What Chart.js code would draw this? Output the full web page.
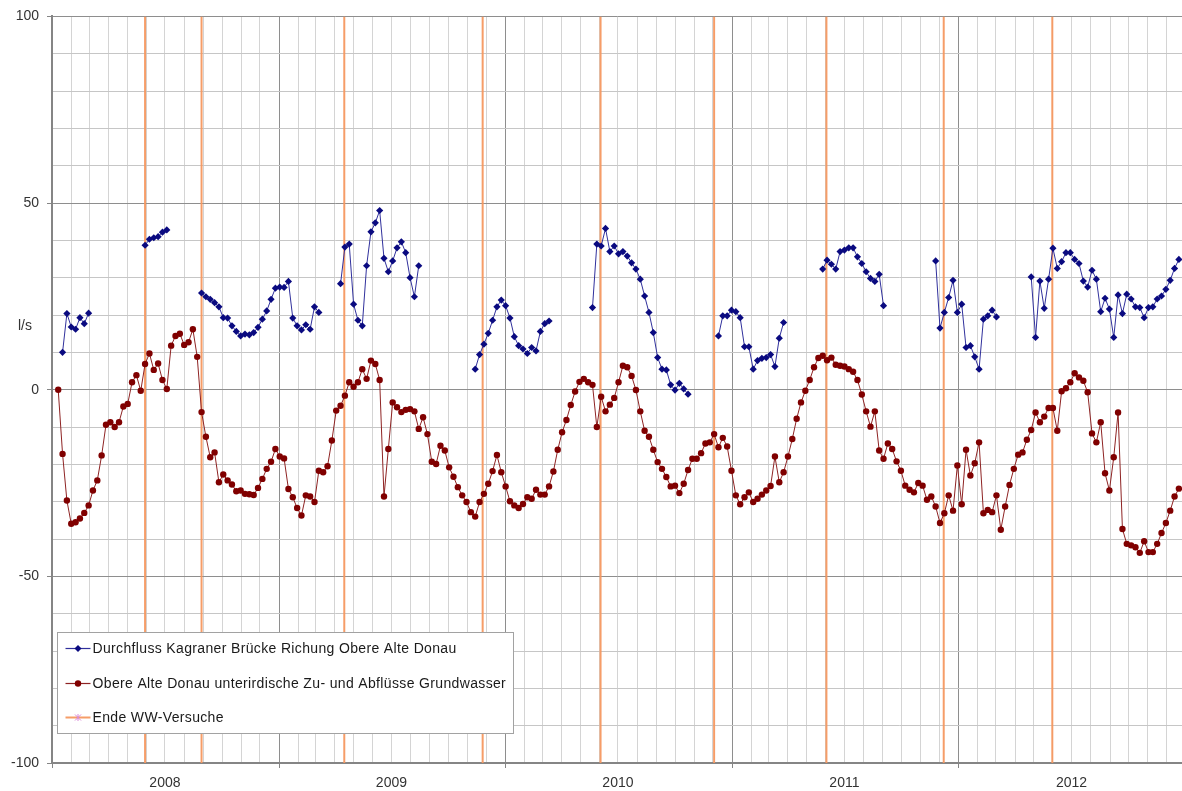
<!DOCTYPE html>
<html>
<head>
<meta charset="utf-8">
<title>Obere Alte Donau – Durchfluss und Grundwasser</title>
<script src="https://cdn.jsdelivr.net/npm/chart.js@4.4.1/dist/chart.umd.min.js"></script>
<style>
  html, body { margin: 0; padding: 0; background: #ffffff; overflow: hidden; }
  #wrap { width: 1182px; height: 791px; position: relative; }
  canvas { display: block; }
</style>
</head>
<body>
<div id="wrap"><canvas id="chart" width="1182" height="791"></canvas></div>
<script>
// Weekly measurement schedule
const firstSample = '2008-01-11';
const sampleStepDays = 7;

// Obere Alte Donau: subsurface in-/outflow (groundwater), l/s
const groundwater = [
  0, -17.2, -29.7, -35.9, -35.5, -34.5, -33, -31, -27, -24.3,
  -17.6, -9.4, -8.7, -10, -8.7, -4.5, -3.8, 2, 3.9, -0.3,
  6.9, 9.7, 5.3, 7, 2.6, 0.2, 11.8, 14.4, 15, 12,
  12.7, 16.2, 8.8, -6, -12.6, -18.1, -16.8, -24.8, -22.7, -24.3,
  -25.4, -27.2, -27, -27.9, -28, -28.2, -26.3, -23.9, -21.2, -19.3,
  -15.9, -17.9, -18.4, -26.6, -28.8, -31.7, -33.7, -28.3, -28.6, -30.1,
  -21.7, -22.1, -20.5, -13.6, -5.6, -4.3, -1.6, 2, 0.8, 2,
  5.5, 2.9, 7.8, 6.9, 2.6, -28.6, -15.9, -3.4, -4.7, -6,
  -5.4, -5.2, -5.8, -10.5, -7.4, -11.9, -19.3, -19.9, -15, -16.3,
  -20.8, -23.3, -26.1, -28.3, -30.1, -32.8, -34, -30.1, -27.9, -25.2,
  -21.8, -17.5, -22.1, -25.9, -29.9, -31, -31.7, -30.6, -28.8, -29.2,
  -26.8, -28.1, -28.1, -25.9, -21.9, -16.1, -11.4, -8.1, -4.1, -0.5,
  2.1, 2.9, 2, 1.3, -10, -1.9, -5.8, -4, -2.2, 2,
  6.4, 6, 3.7, -0.1, -5.8, -11, -12.6, -16.1, -19.4, -21.2,
  -23.4, -25.9, -25.7, -27.7, -25.2, -21.5, -18.5, -18.5, -17, -14.4,
  -14.1, -11.9, -15.4, -12.9, -15.2, -21.7, -28.3, -30.7, -28.8, -27.5,
  -30.1, -29.2, -28.1, -27, -25.8, -17.9, -24.8, -22.1, -17.9, -13.2,
  -7.8, -3.4, -0.3, 2.6, 6, 8.5, 9.1, 7.9, 8.6, 6.7,
  6.4, 6.2, 5.5, 4.8, 2.6, -1.3, -5.8, -9.9, -5.8, -16.3,
  -18.5, -14.4, -15.9, -19.2, -21.7, -25.7, -26.8, -27.5, -25, -25.7,
  -29.5, -28.6, -31.3, -35.7, -33.1, -28.3, -32.4, -20.3, -30.7, -16.1,
  -23, -19.7, -14.1, -33.1, -32.2, -32.8, -28.3, -37.5, -31.3, -25.5,
  -21.2, -17.4, -16.8, -13.4, -10.8, -6.1, -8.7, -7.2, -4.9, -4.9,
  -11, -0.4, 0.4, 2, 4.4, 3.3, 2.4, -0.7, -11.7, -14.1,
  -8.7, -22.4, -27, -18.1, -6.1, -37.3, -41.3, -41.7, -42.2, -43.7,
  -40.6, -43.5, -43.5, -41.3, -38.4, -35.7, -32.4, -28.6, -26.5
];

// Discharge at Kagraner Brücke towards Obere Alte Donau, l/s (null = no measurement)
const discharge = [
  null, 10.0, 20.4, 16.8, 16.2, 19.3, 17.7, 20.5, null, null,
  null, null, null, null, null, null, null, null, null, null,
  38.7, 40.3, 40.7, 41, 42.2, 42.8, null, null, null, null,
  null, null, null, 25.9, 24.9, 24.2, 23.3, 22.2, 19.3, 19.2,
  17.1, 15.6, 14.4, 14.9, 14.7, 15.3, 16.7, 18.9, 21.1, 24.2,
  27.2, 27.5, 27.4, 29, 19.2, 17.1, 16, 17.4, 16.2, 22.2,
  20.7, null, null, null, null, 28.4, 38.2, 39, 22.9, 18.6,
  17.1, 33.2, 42.3, 44.7, 48, 35.2, 31.6, 34.5, 38, 39.6,
  36.7, 30, 24.9, 33.2, null, null, null, null, null, null,
  null, null, null, null, null, null, 5.5, 9.4, 12.2, 15.1,
  18.6, 22.2, 24, 22.5, 19.2, 14.2, 11.8, 10.9, 9.7, 11.3,
  10.4, 15.6, 17.7, 18.4, null, null, null, null, null, null,
  null, null, null, 22, 39, 38.5, 43.2, 37, 38.5, 36.4,
  37, 35.8, 34, 32.3, 29.6, 25.1, 20.7, 15.3, 8.6, 5.5,
  5.3, 1.3, -0.1, 1.7, 0.2, -1.2, null, null, null, null,
  null, null, 14.4, 19.8, 19.8, 21.3, 20.9, 19.3, 11.5, 11.5,
  5.5, 7.8, 8.4, 8.6, 9.4, 6.2, 13.8, 18, null, null,
  null, null, null, null, null, null, 32.3, 34.7, 33.6, 32.3,
  37, 37.4, 38, 38, 35.6, 33.8, 31.6, 29.8, 29, 30.9,
  22.5, null, null, null, null, null, null, null, null, null,
  null, null, 34.5, 16.5, 20.7, 24.7, 29.3, 20.7, 22.9, 11.3,
  11.8, 8.8, 5.5, 18.9, 19.8, 21.3, 19.5, null, null, null,
  null, null, null, null, 30.2, 14, 29.1, 21.8, 29.6, 37.9,
  32.5, 34.3, 36.7, 36.7, 34.9, 33.8, 29.1, 27.5, 32, 29.6,
  20.9, 24.5, 21.6, 14, 25.4, 20.4, 25.6, 24.3, 22.2, 22,
  19.3, 22, 22.2, 24.3, 25.1, 26.9, 29.3, 32.5, 34.9
];

// End dates of the WW trials
const trialEnds = [
  '2008-05-30', '2008-08-29', '2009-04-16', '2009-11-25', '2010-06-03',
  '2010-12-03', '2011-06-02', '2011-12-08', '2012-05-31'
];

const years = [2008, 2009, 2010, 2011, 2012];
const yTickLabels = [100, 50, 0, -50, -100];
const unitLabel = 'l/s';
const seriesNames = [
  'Durchfluss Kagraner Brücke Richung Obere Alte Donau',
  'Obere Alte Donau unterirdische Zu- und Abflüsse Grundwasser',
  'Ende WW-Versuche'
];

// --- time helpers: x axis counts days from 1 Jan 2008 ---
const DAY_MS = 86400000;
const ORIGIN = Date.UTC(2008, 0, 1);
function dayOf(iso) {
  const [y, m, d] = iso.split('-').map(Number);
  return (Date.UTC(y, m - 1, d) - ORIGIN) / DAY_MS;
}
const startDay = dayOf(firstSample);
const sampleDay = i => startDay + i * sampleStepDays;

const groundwaterPts = groundwater.map((v, i) => ({ x: sampleDay(i), y: v }));
const dischargePts = discharge.map((v, i) => ({ x: sampleDay(i), y: v }));

const Y_MIN = -100, Y_MAX = 100;
const trialPts = [];
trialEnds.forEach(s => {
  const d = dayOf(s);
  trialPts.push({ x: d, y: Y_MIN }, { x: d, y: Y_MAX }, { x: d, y: null });
});

// month boundaries for the vertical grid; year label sits on the July line
const monthTicks = [];
const yearStarts = new Set();
const yearLabelAt = new Map();
years.forEach(y => {
  for (let m = 0; m < 12; m++) {
    const d = (Date.UTC(y, m, 1) - ORIGIN) / DAY_MS;
    monthTicks.push(d);
    if (m === 0) yearStarts.add(d);
    if (m === 6) yearLabelAt.set(d, String(y));
  }
});

const COLORS = {
  blueLine: '#30309c',
  blueMark: '#0a0a80',
  redLine: '#8e2323',
  redMark: '#800000',
  orange: 'rgba(246,152,96,0.95)',
  star: '#d889d8',
  gridMinorH: '#c6c6c6',
  gridMinorV: '#d4d4d4',
  gridMajor: '#8e8e8e',
  axis: '#858585',
  text: '#333333'
};

const FONT = '"Liberation Sans", Arial, sans-serif';

// legend box and unit label drawn over the plot
const overlayPlugin = {
  id: 'overlay',
  afterDraw(chart) {
    const { ctx, chartArea } = chart;
    ctx.save();
    // unit label next to the y axis
    ctx.font = '14px ' + FONT;
    ctx.fillStyle = COLORS.text;
    ctx.textAlign = 'center';
    ctx.textBaseline = 'middle';
    ctx.fillText(unitLabel, chartArea.left - 27, chartArea.top + 310);

    // legend
    const bx = chartArea.left + 5.5, by = chartArea.bottom - 130.5, bw = 456, bh = 101;
    ctx.fillStyle = '#ffffff';
    ctx.fillRect(bx, by, bw, bh);
    ctx.strokeStyle = '#a2a2a2';
    ctx.lineWidth = 1;
    ctx.strokeRect(bx, by, bw, bh);

    const rows = [16, 51, 85];
    const lx0 = bx + 8, lx1 = bx + 33, mx = bx + 20.5, tx = bx + 35;
    ctx.textAlign = 'left';
    ctx.font = '14px ' + FONT;
    if ('letterSpacing' in ctx) ctx.letterSpacing = '0.35px';
    rows.forEach((dy, k) => {
      const y = by + dy;
      const stroke = k === 0 ? COLORS.blueLine : k === 1 ? COLORS.redLine : COLORS.orange;
      ctx.strokeStyle = stroke;
      ctx.lineWidth = k === 2 ? 2 : 1.2;
      ctx.beginPath(); ctx.moveTo(lx0, y); ctx.lineTo(lx1, y); ctx.stroke();
      if (k === 0) {
        ctx.fillStyle = COLORS.blueMark;
        ctx.beginPath();
        ctx.moveTo(mx, y - 3.5); ctx.lineTo(mx + 3.5, y); ctx.lineTo(mx, y + 3.5); ctx.lineTo(mx - 3.5, y);
        ctx.closePath(); ctx.fill();
      } else if (k === 1) {
        ctx.fillStyle = COLORS.redMark;
        ctx.beginPath(); ctx.arc(mx, y, 3.2, 0, Math.PI * 2); ctx.fill();
      } else {
        ctx.strokeStyle = COLORS.star;
        ctx.lineWidth = 1;
        ctx.beginPath();
        ctx.moveTo(mx - 3, y - 3); ctx.lineTo(mx + 3, y + 3);
        ctx.moveTo(mx + 3, y - 3); ctx.lineTo(mx - 3, y + 3);
        ctx.moveTo(mx, y - 3.5); ctx.lineTo(mx, y + 3.5);
        ctx.stroke();
      }
      ctx.fillStyle = '#1a1a1a';
      ctx.fillText(seriesNames[k], tx, y + 0.5);
    });
    ctx.restore();
  }
};

Chart.defaults.font.family = FONT;
Chart.defaults.font.size = 14;
Chart.defaults.color = COLORS.text;

new Chart(document.getElementById('chart'), {
  type: 'line',
  data: {
    datasets: [
      {
        label: seriesNames[0],
        data: dischargePts,
        borderColor: COLORS.blueLine,
        borderWidth: 1,
        pointStyle: 'rectRot',
        pointRadius: 3.6,
        pointBackgroundColor: COLORS.blueMark,
        pointBorderColor: COLORS.blueMark,
        pointBorderWidth: 0,
        spanGaps: false,
        tension: 0,
        order: 1
      },
      {
        label: seriesNames[1],
        data: groundwaterPts,
        borderColor: COLORS.redLine,
        borderWidth: 1,
        pointStyle: 'circle',
        pointRadius: 3.2,
        pointBackgroundColor: COLORS.redMark,
        pointBorderColor: COLORS.redMark,
        pointBorderWidth: 0,
        tension: 0,
        order: 2
      },
      {
        label: seriesNames[2],
        data: trialPts,
        borderColor: COLORS.orange,
        borderWidth: 2,
        pointRadius: 0,
        spanGaps: false,
        order: 3
      }
    ]
  },
  options: {
    responsive: false,
    animation: false,
    devicePixelRatio: 1,
    layout: { autoPadding: false, padding: { top: 15, right: 0, bottom: 0, left: 0 } },
    plugins: { legend: { display: false }, tooltip: { enabled: false } },
    scales: {
      x: {
        type: 'linear',
        min: 0,
        max: 1821,
        afterFit: s => { s.height = 28; s.paddingLeft = 0; s.paddingRight = 0; },
        afterBuildTicks: s => { s.ticks = monthTicks.map(v => ({ value: v })); },
        ticks: {
          autoSkip: false,
          maxRotation: 0,
          padding: 7,
          color: COLORS.text,
          callback: v => yearLabelAt.get(v) || ''
        },
        grid: {
          color: c => (c.tick && yearStarts.has(c.tick.value)) ? COLORS.gridMajor : COLORS.gridMinorV,
          lineWidth: 1,
          tickLength: 5,
          tickColor: c => (c.tick && yearStarts.has(c.tick.value)) ? COLORS.axis : 'rgba(0,0,0,0)'
        },
        border: { color: COLORS.axis, width: 2 }
      },
      y: {
        min: Y_MIN,
        max: Y_MAX,
        afterFit: s => { s.width = 52; },
        ticks: {
          stepSize: 10,
          padding: 8,
          color: COLORS.text,
          callback: v => yTickLabels.includes(v) ? String(v) : ''
        },
        grid: {
          color: c => (c.tick && c.tick.value % 50 === 0) ? COLORS.gridMajor : COLORS.gridMinorH,
          lineWidth: 1,
          tickLength: 5,
          tickColor: c => (c.tick && c.tick.value % 50 === 0) ? COLORS.axis : 'rgba(0,0,0,0)'
        },
        border: { color: COLORS.axis, width: 2 }
      }
    }
  },
  plugins: [overlayPlugin]
});
</script>
</body>
</html>
